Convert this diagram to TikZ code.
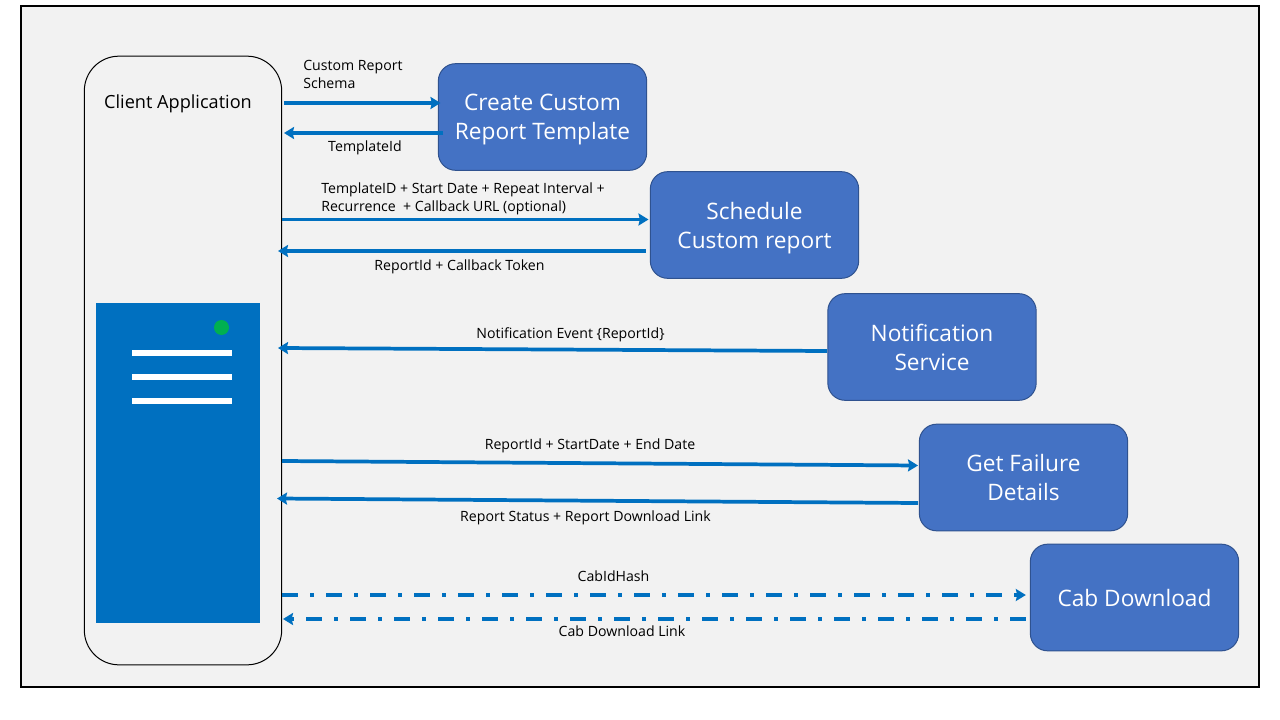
\documentclass[tikz,border=0pt]{standalone}
\usepackage{fontspec}
\setmainfont{Open Sans}
\usetikzlibrary{arrows.meta}
\definecolor{framefill}{HTML}{F2F2F2}
\definecolor{boxfill}{HTML}{4472C4}
\definecolor{boxline}{HTML}{2F528F}
\definecolor{flowblue}{HTML}{0070C0}
\definecolor{ledgreen}{HTML}{00B050}
\tikzset{
  svcbox/.style={draw=boxline, line width=0.75pt, fill=boxfill, rounded corners=13pt, text=white,
    minimum width=156.25pt, minimum height=80pt, inner sep=0pt, align=center,
    font=\fontsize{17}{21.75}\selectfont},
  flow/.style={draw=flowblue, line width=2.8pt, ->},
  flowdash/.style={flow, dash pattern=on 12pt off 9pt on 3pt off 9pt},
  msg/.style={inner sep=0pt, align=left, text=black, font=\fontsize{10.6}{13.5}\selectfont}
}
\begin{document}
\begin{tikzpicture}[x=0.75pt, y=-0.75pt, >={Stealth[length=7.5pt, width=9pt, inset=1pt]}]
  \useasboundingbox (0,0) rectangle (1280,720);
  \draw[black, line width=1.6pt, fill=framefill] (21,6) rectangle (1259,687);

  % client and its server
  \node[draw=black, line width=0.75pt, rounded corners=26pt, minimum width=148pt, minimum height=456.5pt, inner sep=0pt] (client) at (183,360.5) {};
  \node[inner sep=0pt, text=black, font=\fontsize{13.6}{14}\selectfont] (clientname) at (178,103.5) {Client Application};
  \fill[flowblue] (96,303) rectangle (260,623);
  \fill[ledgreen] (221.5,327.5) circle (7.5);
  \fill[white] (132,350) rectangle (232,356);
  \fill[white] (132,374) rectangle (232,380);
  \fill[white] (132,398) rectangle (232,404);

  % services
  \node[svcbox] (create) at (542.5,117) {Create Custom\\\smash{Report Template}};
  \node[svcbox] (schedule) at (754.5,225) {Schedule\\\smash{Custom report}};
  \node[svcbox] (notify) at (932,347) {Notification\\Service};
  \node[svcbox] (failure) at (1023.5,477.5) {Get Failure\\Details};
  \node[svcbox] (cab) at (1134.5,597.5) {Cab Download};

  % free ends on the client side
  \coordinate (cA) at (284,103);
  \coordinate (cB) at (284,133);
  \coordinate (cC) at (282,219.5);
  \coordinate (cD) at (278,251);
  \coordinate (cE) at (278,348);
  \coordinate (cF) at (282,461);
  \coordinate (cG) at (277,498.5);
  \coordinate (cH) at (282,595);
  \coordinate (cI) at (283,619);
  % free ends on the service side
  \coordinate (sE) at (827,351);
  \coordinate (sF) at (918,465.5);
  \coordinate (sG) at (918,503);

  \draw[flow, shorten >=-2pt] (cA) -- (create.west |- cA);
  \draw[flow, shorten <=-4pt] (create.west |- cB) -- (cB);
  \draw[flow, shorten >=1pt] (cC) -- (schedule.west |- cC);
  \draw[flow, shorten <=3pt] (schedule.west |- cD) -- (cD);
  \draw[flow] (sE) -- (cE);
  \draw[flow] (cF) -- (sF);
  \draw[flow] (sG) -- (cG);
  \draw[flowdash, shorten >=3pt] (cH) -- (cab.west |- cH);
  \draw[flowdash, shorten <=3pt] (cab.west |- cI) -- (cI);

  % labels
  \node[msg, anchor=west] (lblschema) at (303,74) {Custom Report\\Schema};
  \node[msg] (lbltemplate) at (365,148) {TemplateId};
  \node[msg, anchor=west] (lblschedule) at (321,199) {TemplateID + Start Date + Repeat Interval +\\Recurrence\ \ + Callback URL (optional)};
  \node[msg] (lblreport) at (459.5,267) {ReportId + Callback Token};
  \node[msg] (lblnotify) at (570.5,335) {Notification Event \{ReportId\}};
  \node[msg] (lbldates) at (590,446) {ReportId + StartDate + End Date};
  \node[msg] (lblstatus) at (585.5,518) {Report Status + Report Download Link};
  \node[msg] (lblhash) at (613.5,576.5) {CabIdHash};
  \node[msg] (lbllink) at (622,631) {Cab Download Link};
\end{tikzpicture}
\end{document}
